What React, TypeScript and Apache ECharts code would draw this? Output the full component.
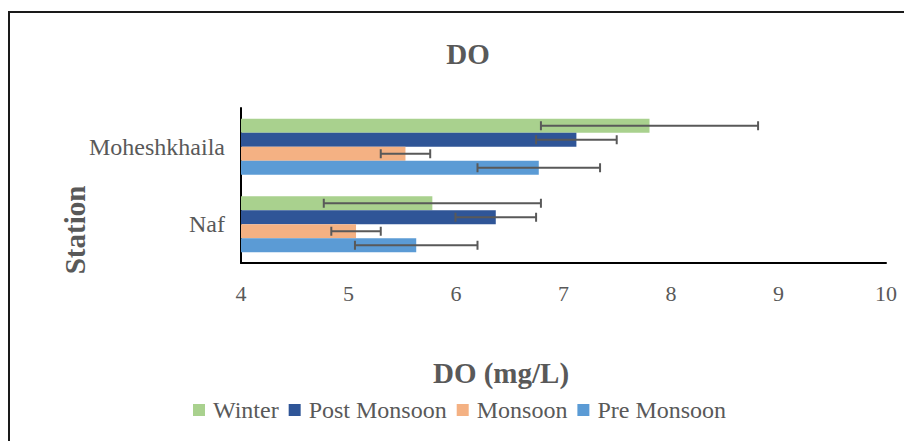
import React, { useEffect, useRef } from "react";
import * as echarts from "echarts";

const stations = ["Naf", "Moheshkhaila"];
const seasons = ["Winter", "Post Monsoon", "Monsoon", "Pre Monsoon"];
const colors = ["#A9D18E", "#2F5597", "#F4B183", "#5B9BD5"];
// values per station [Naf, Moheshkhaila]
const winter = [5.78, 7.8];
const postMonsoon = [6.37, 7.12];
const monsoon = [5.07, 5.53];
const preMonsoon = [5.63, 6.77];
const winterErr = [1.01, 1.01];
const postMonsoonErr = [0.375, 0.375];
const monsoonErr = [0.23, 0.23];
const preMonsoonErr = [0.57, 0.57];
const xTicks = [4, 5, 6, 7, 8, 9, 10];

const seriesValues = [winter, postMonsoon, monsoon, preMonsoon];
const seriesErrs = [winterErr, postMonsoonErr, monsoonErr, preMonsoonErr];

const FONT = "Liberation Serif";
const TXT = "#595959";
const BAR_W = 14;

export default function App() {
  const ref = useRef<HTMLDivElement>(null);
  useEffect(() => {
    if (!ref.current) return;
    const chart = echarts.init(ref.current, undefined, { renderer: "svg" });
    const barSeries: any[] = seasons.map((name, i) => ({
      type: "bar",
      name,
      data: seriesValues[i],
      barWidth: BAR_W,
      barGap: "0%",
      itemStyle: { color: colors[i] },
    }));
    const errSeries: any[] = seasons.map((name, i) => ({
      type: "custom",
      name: name + " error",
      data: stations.map((_, k) => [k, seriesValues[i][k], seriesErrs[i][k]]),
      encode: { x: 1, y: 0 },
      z: 5,
      renderItem: (params: any, api: any) => {
        const cat = api.value(0);
        const mean = api.value(1);
        const err = api.value(2);
        const lo = api.coord([mean - err, cat]);
        const hi = api.coord([mean + err, cat]);
        const offset = -1.5 * BAR_W + i * BAR_W;
        const y = lo[1] + offset;
        const st = { stroke: "#595959", lineWidth: 2 };
        return {
          type: "group",
          children: [
            { type: "line", shape: { x1: lo[0], y1: y, x2: hi[0], y2: y }, style: st },
            { type: "line", shape: { x1: lo[0], y1: y - 4.5, x2: lo[0], y2: y + 4.5 }, style: st },
            { type: "line", shape: { x1: hi[0], y1: y - 4.5, x2: hi[0], y2: y + 4.5 }, style: st },
          ],
        };
      },
    }));
    chart.setOption({
      animation: false,
      title: {
        text: "DO",
        left: 463,
        top: 34,
        textAlign: "center",
        textStyle: { fontFamily: FONT, fontSize: 29, fontWeight: "bold", color: TXT },
      },
      legend: {
        data: seasons,
        left: 188,
        top: 393,
        itemWidth: 12,
        itemHeight: 12,
        itemGap: 10,
        icon: "rect",
        textStyle: { fontFamily: FONT, fontSize: 24, color: TXT, padding: [0, 0, 0, 3] },
      },
      grid: { left: 241, right: 18, top: 108, bottom: 178, containLabel: false },
      xAxis: {
        type: "value",
        min: xTicks[0],
        max: xTicks[xTicks.length - 1],
        interval: 1,
        axisLine: { show: true, lineStyle: { color: "#000", width: 2 } },
        axisTick: { show: false },
        splitLine: { show: false },
        axisLabel: { fontFamily: FONT, fontSize: 22, color: TXT, margin: 19 },
      },
      yAxis: {
        type: "category",
        data: stations,
        axisLine: { show: true, lineStyle: { color: "#000", width: 2 } },
        axisTick: { show: false },
        axisLabel: { fontFamily: FONT, fontSize: 24, color: TXT, margin: 16 },
      },
      graphic: [
        {
          type: "rect",
          shape: { x: 9, y: 12, width: 1000, height: 1000 },
          style: { fill: "none", stroke: "#1a1a1a", lineWidth: 2 },
          silent: true,
        },
        {
          type: "text",
          x: 501,
          y: 373,
          style: {
            text: "DO (mg/L)",
            fontFamily: FONT,
            fontSize: 29,
            fontWeight: "bold",
            fill: TXT,
            textAlign: "center",
            textVerticalAlign: "middle",
          },
        },
        {
          type: "text",
          x: 75,
          y: 230,
          rotation: Math.PI / 2,
          style: {
            text: "Station",
            fontFamily: FONT,
            fontSize: 29,
            fontWeight: "bold",
            fill: TXT,
            textAlign: "center",
            textVerticalAlign: "middle",
          },
        },
      ],
      series: [...barSeries, ...errSeries],
    });
    return () => chart.dispose();
  }, []);
  return (
    <div
      ref={ref}
      style={{ position: "absolute", left: 0, top: 0, width: 904, height: 441, background: "#fff" }}
    />
  );
}
